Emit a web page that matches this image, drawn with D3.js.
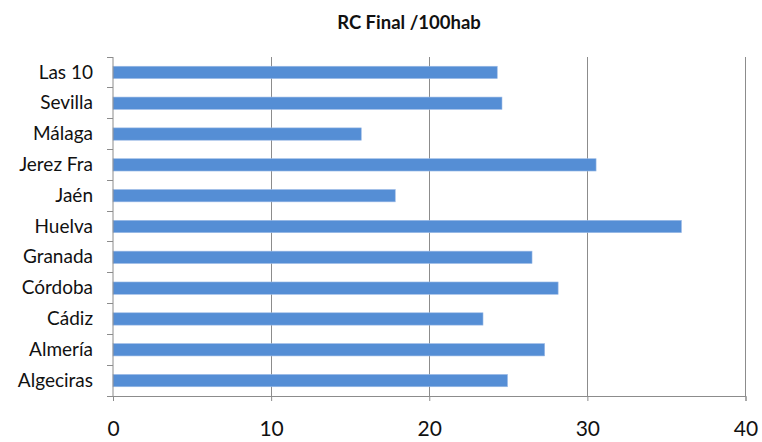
<!DOCTYPE html>
<html><head><meta charset="utf-8">
<script src="https://cdn.jsdelivr.net/npm/d3@7"></script>
<style>body{margin:0;background:#fff}svg{display:block}</style>
</head><body><svg id="c" width="762" height="442"></svg>
<script>
const categories = ["Las10","Sevilla","Málaga","Jerez Fra","Jaén","Huelva","Granada","Córdoba","Cádiz","Almería","Algeciras"];
const labels = ["Las 10","Sevilla","Málaga","Jerez Fra","Jaén","Huelva","Granada","Córdoba","Cádiz","Almería","Algeciras"];
const values = [24.3,24.6,15.7,30.55,17.85,35.95,26.5,28.15,23.4,27.3,24.95];
const xTicks = [0,10,20,30,40];
const title = "RC Final /100hab";

const svg = d3.select("#c");
const m = {l:113, r:16.5, t:57, b:46};
const W = 762, H = 442;
const x = d3.scaleLinear().domain([0,40]).range([m.l, W - m.r]);
const y = d3.scaleBand().domain(categories).range([m.t, H - m.b]).paddingInner(0.6).paddingOuter(0.3);
const font = "Lato, 'Open Sans', sans-serif";

// gridlines
svg.append("g").selectAll("line").data(xTicks.slice(1)).join("line")
  .attr("x1", d=>x(d)).attr("x2", d=>x(d)).attr("y1", m.t).attr("y2", H-m.b)
  .attr("stroke", "#8c8c8c").attr("stroke-width", 1).attr("shape-rendering","crispEdges");

// bars
svg.append("g").selectAll("rect").data(values).join("rect")
  .attr("x", x(0)).attr("y", (d,i)=>y(categories[i]))
  .attr("width", d=>x(d)-x(0)).attr("height", y.bandwidth())
  .attr("fill", "#558ed5").attr("stroke","#9dbbe6").attr("stroke-width",0.6);

// x axis
const xa = svg.append("g").attr("transform", `translate(0,${H-m.b})`)
  .call(d3.axisBottom(x).tickValues(xTicks).tickSize(5).tickPadding(20));
xa.select(".domain").attr("stroke","#8c8c8c");
xa.selectAll(".tick line").attr("stroke","#8c8c8c");
xa.selectAll("text").attr("font-family", font).attr("font-size", 21).attr("fill","#111");

// y axis
const yb = d3.scaleBand().domain(categories).range([m.t, H - m.b]);
const ya = svg.append("g").attr("transform", `translate(${m.l},0)`)
  .call(d3.axisLeft(y).tickSize(0).tickPadding(20).tickFormat((d,i)=>labels[i]));
ya.select(".domain").attr("stroke","#8c8c8c").attr("d", `M0,${m.t}V${H-m.b}`);
ya.selectAll("text").attr("font-family", font).attr("font-size", 19).attr("fill","#111");
svg.append("g").selectAll("line").data(categories.concat(["end"])).join("line")
  .attr("x1", m.l-6).attr("x2", m.l)
  .attr("y1", (d,i)=> m.t + i*yb.step()).attr("y2", (d,i)=> m.t + i*yb.step())
  .attr("stroke","#8c8c8c").attr("shape-rendering","crispEdges");

svg.append("text").attr("x", 409).attr("y", 29).attr("text-anchor","middle")
  .attr("font-family", font).attr("font-weight","bold").attr("font-size", 18.5).attr("fill","#111").text(title);
</script></body></html>
